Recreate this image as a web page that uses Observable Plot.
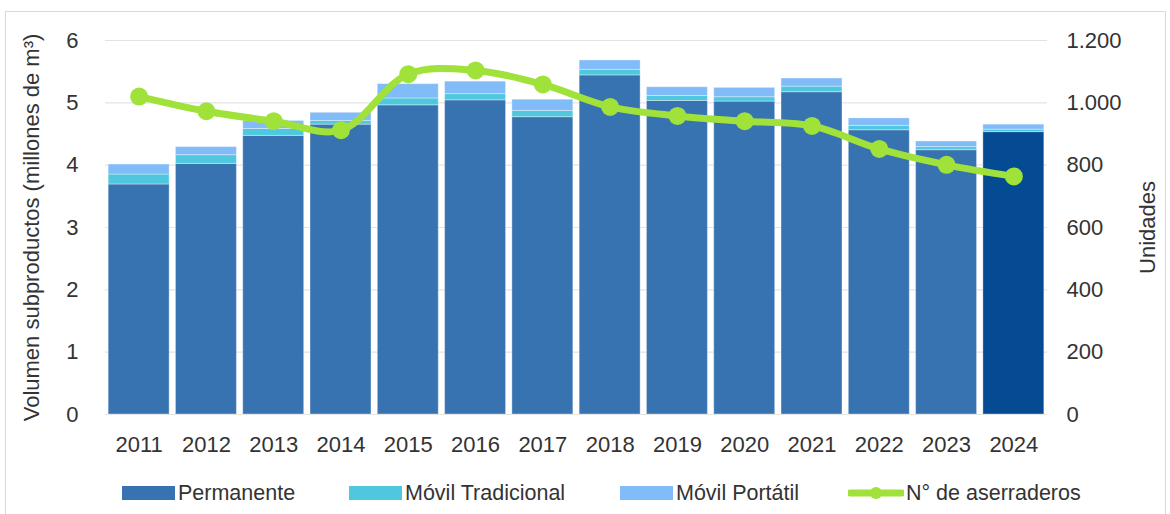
<!DOCTYPE html>
<html><head><meta charset="utf-8">
<script src="https://cdn.jsdelivr.net/npm/d3@7"></script>
<script src="https://cdn.jsdelivr.net/npm/@observablehq/plot@0.6"></script>
<style>
body{margin:0;background:#fff;font-family:"Liberation Sans",Arial,sans-serif;}
#wrap{position:relative;width:1170px;height:514px;overflow:hidden}
#frame{position:absolute;left:5px;top:11px;width:1161px;height:540px;border:1px solid #d9d9d9;box-sizing:border-box}
#chart{position:absolute;left:0;top:0}
.lg{position:absolute;top:481px;height:24px;display:flex;align-items:center;font-size:21.5px;color:#333;white-space:nowrap}
.sw{display:inline-block;width:53px;height:14px;margin-right:3px}
</style></head>
<body>
<div id="wrap">
<div id="frame"></div>
<div id="chart"></div>
<div id="legend"></div>
</div>
<script>
const years = ["2011","2012","2013","2014","2015","2016","2017","2018","2019","2020","2021","2022","2023","2024"];
const permanente  = [3.69,4.02,4.47,4.65,4.96,5.04,4.77,5.44,5.03,5.02,5.17,4.56,4.24,4.53];
const tradicional = [0.16,0.14,0.11,0.06,0.11,0.10,0.10,0.09,0.08,0.07,0.09,0.07,0.05,0.04];
const portatil    = [0.16,0.13,0.13,0.13,0.23,0.20,0.18,0.15,0.14,0.15,0.13,0.12,0.09,0.08];
const aserraderos = [1020,973,941,912,1092,1104,1059,987,958,941,926,852,801,764];
const seriesNames = ["Permanente","Móvil Tradicional","Móvil Portátil","N° de aserraderos"];
const seriesColors = ["#3873b1","#4fc8df","#81bbf8","#a0e23a"];
const highlightColor = "#044b94";
const leftTicks = [0,1,2,3,4,5,6];
const unitsPerVolume = 200;

const rows = [];
years.forEach((yr,i)=>{
  rows.push({year:yr, series:seriesNames[0], value:permanente[i], color: yr==="2024" ? highlightColor : seriesColors[0]});
  rows.push({year:yr, series:seriesNames[1], value:tradicional[i], color: seriesColors[1]});
  rows.push({year:yr, series:seriesNames[2], value:portatil[i], color: seriesColors[2]});
});
const lineData = years.map((yr,i)=>({year:yr, n:aserraderos[i]}));
const fmtUnits = d => { const v = Math.round(d*unitsPerVolume); return v>=1000 ? String(v).replace(/(\d)(\d{3})$/,"$1.$2") : String(v); };

const chart = Plot.plot({
  width:1170, height:460,
  marginTop:40, marginBottom:46, marginLeft:105, marginRight:123,
  x:{domain:years, paddingInner:0.094, paddingOuter:0.047, round:false, label:null},
  y:{domain:[0,6], label:null},
  style:{fontFamily:"Liberation Sans, Arial, sans-serif", fontSize:"22px", color:"#333", background:"transparent", overflow:"visible"},
  marks:[
    Plot.gridY(leftTicks, {stroke:"#e3e3e3", strokeOpacity:1, strokeWidth:1.2}),
    Plot.barY(rows, {x:"year", y:"value", fill:d=>d.color, stroke:"white", strokeOpacity:0.35, strokeWidth:1}),
    Plot.line(lineData, {x:"year", y:d=>d.n/unitsPerVolume, stroke:seriesColors[3], strokeWidth:7, curve:"catmull-rom"}),
    Plot.dot(lineData, {x:"year", y:d=>d.n/unitsPerVolume, r:9, fill:seriesColors[3]}),
    Plot.axisX({tickSize:0, tickPadding:22, label:null}),
    Plot.axisY(leftTicks, {anchor:"left", tickSize:0, tickPadding:27, tickFormat:d=>String(d), label:"Volumen subproductos (millones de m³)", labelAnchor:"center", labelArrow:"none", labelOffset:82}),
    Plot.axisY(leftTicks, {anchor:"right", tickSize:0, tickPadding:19, tickFormat:fmtUnits, label:"Unidades", labelAnchor:"center", labelArrow:"none", labelOffset:107})
  ]
});
document.getElementById("chart").appendChild(chart);

const legendPos = [122,349,620,848];
const legend = document.getElementById("legend");
seriesNames.forEach((name,i)=>{
  const it = document.createElement("div");
  it.className = "lg";
  it.style.left = legendPos[i]+"px";
  let sw;
  if (i<3) {
    sw = `<span class="sw" style="background:${seriesColors[i]}"></span>`;
  } else {
    sw = `<svg width="56" height="20" style="margin-right:2px"><line x1="2" x2="54" y1="10" y2="10" stroke="${seriesColors[3]}" stroke-width="7" stroke-linecap="round"/><circle cx="28" cy="10" r="6" fill="${seriesColors[3]}"/></svg>`;
  }
  it.innerHTML = sw + `<span>${name}</span>`;
  legend.appendChild(it);
});
</script>
</body></html>
